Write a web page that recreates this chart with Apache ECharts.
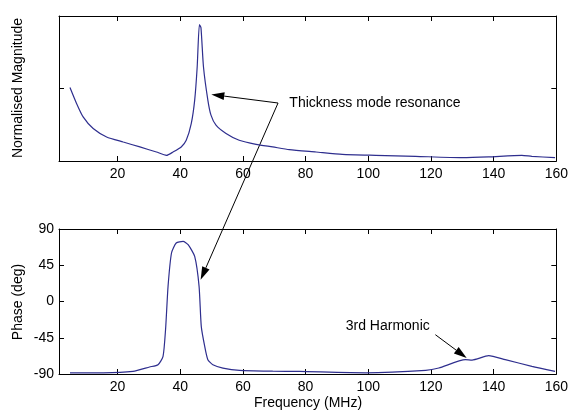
<!DOCTYPE html>
<html>
<head>
<meta charset="utf-8">
<script src="https://cdn.jsdelivr.net/npm/echarts@6/dist/echarts.min.js"></script>
<style>
html,body{margin:0;padding:0;background:#fff;}
#c{width:571px;height:412px;}
</style>
</head>
<body>
<div id="c"></div>
<script>
// ---- data ----
var magFreq = [4.8, 6.9, 9.0, 12.2, 16.5, 21.8, 27.1, 32.4, 35.6, 37.7, 40.3, 41.9, 43.5, 44.6, 45.4, 46.1, 46.6, 47.4, 48.8, 49.8, 51.4, 54.6, 58.8, 64.2, 69.5, 74.8, 83.3, 91.7, 102.3, 115.1, 129.9, 138.4, 149.0, 152.2, 159.6];
var magVal  = [0.507, 0.397, 0.304, 0.224, 0.166, 0.131, 0.097, 0.062, 0.039, 0.062, 0.097, 0.143, 0.258, 0.42, 0.65, 0.94, 0.92, 0.65, 0.42, 0.316, 0.247, 0.19, 0.143, 0.115, 0.097, 0.078, 0.062, 0.046, 0.039, 0.032, 0.023, 0.028, 0.039, 0.032, 0.023];
var phFreq = [4.8, 15.4, 24.9, 30.2, 32.9, 34.5, 35.3, 36.1, 37.2, 38.7, 40.9, 42.5, 44.6, 46.0, 46.7, 47.8, 48.8, 50.4, 53.6, 58.9, 69.5, 78.0, 99.2, 118.3, 122.5, 131.0, 133.1, 138.4, 143.7, 152.2, 159.6];
var phVal  = [-88.5, -88.5, -86.8, -81.3, -78.5, -68.2, -35, 18.8, 60.2, 72.6, 74.6, 70.5, 56, 18.8, -30.9, -55.7, -72.2, -78.5, -82.6, -85.5, -86.5, -86.8, -88.5, -85.5, -82.6, -72.2, -72.7, -67.3, -72.2, -80.5, -86.8];
var xTicks = [20, 40, 60, 80, 100, 120, 140, 160];
var magTicks = [0.5];
var phTicks = [-90, -45, 0, 45, 90];
var noteThick = 'Thickness mode resonance';
var noteThickText = [74.8, 0.40];
var noteThickStart = [71.2, 0.40];
var noteThickTipMag = [49.9, 0.459];
var noteThickTipPh = [46.5, 27];
var noteHarm = '3rd Harmonic';
var noteHarmText = [92.8, -30.9];
var noteHarmStart = [121.4, -41.2];
var noteHarmTip = [131.4, -70.1];
var xMin = 1.3, xMax = 160;

var FONT = '"Liberation Sans", Arial, sans-serif';
var LINE = '#2e2e8e';

function pairs(a, b) { return a.map(function (v, i) { return [v, b[i]]; }); }

function xAx(grid, bottom, labels) {
  return {
    type: 'value', gridIndex: grid, position: bottom ? 'bottom' : 'top',
    min: xMin, max: xMax,
    axisLine: { show: true, onZero: false, lineStyle: { color: '#000', width: 1 } },
    axisTick: { show: true, inside: true, length: 5, customValues: xTicks, lineStyle: { color: '#000' } },
    axisLabel: { show: labels, customValues: xTicks, color: '#000', fontFamily: FONT, fontSize: 14, margin: 6 },
    splitLine: { show: false }
  };
}
function yAx(grid, left, min, max, ticks, labels) {
  return {
    type: 'value', gridIndex: grid, position: left ? 'left' : 'right',
    min: min, max: max,
    axisLine: { show: true, onZero: false, lineStyle: { color: '#000', width: 1 } },
    axisTick: { show: true, inside: true, length: 5, customValues: ticks, lineStyle: { color: '#000' } },
    axisLabel: { show: labels, customValues: ticks, color: '#000', fontFamily: FONT, fontSize: 14, margin: 5 },
    splitLine: { show: false }
  };
}

var chart = echarts.init(document.getElementById('c'), null, { renderer: 'canvas' });
chart.setOption({
  animation: false,
  backgroundColor: '#fff',
  grid: [
    { left: 59, top: 16, width: 499, height: 145, show: false },
    { left: 59, top: 229, width: 499, height: 145, show: false }
  ],
  xAxis: [xAx(0, true, true), xAx(0, false, false), xAx(1, true, true), xAx(1, false, false)],
  yAxis: [yAx(0, true, 0, 1, magTicks, false), yAx(0, false, 0, 1, magTicks, false),
          yAx(1, true, -90, 90, phTicks, true), yAx(1, false, -90, 90, phTicks, false)],
  series: [
    { type: 'line', xAxisIndex: 0, yAxisIndex: 0, data: pairs(magFreq, magVal), showSymbol: false,
      smooth: 0.2,
      lineStyle: { color: LINE, width: 1.2 }, silent: true },
    { type: 'line', xAxisIndex: 2, yAxisIndex: 2, data: pairs(phFreq, phVal), showSymbol: false,
      smooth: 0.2,
      lineStyle: { color: LINE, width: 1.2 }, silent: true }
  ]
});

function px(grid, p) {
  var xi = grid === 0 ? 0 : 2, yi = grid === 0 ? 0 : 2;
  return chart.convertToPixel({ xAxisIndex: xi, yAxisIndex: yi }, p);
}
function arrow(a, b) {
  var dx = b[0] - a[0], dy = b[1] - a[1], L = Math.sqrt(dx * dx + dy * dy);
  var ux = dx / L, uy = dy / L, hl = 13, hw = 4;
  var bx = b[0] - ux * hl, by = b[1] - uy * hl;
  return [
    { type: 'line', shape: { x1: a[0], y1: a[1], x2: bx, y2: by }, style: { stroke: '#000', lineWidth: 1 }, silent: true },
    { type: 'polygon', shape: { points: [[b[0], b[1]], [bx - uy * hw, by + ux * hw], [bx + uy * hw, by - ux * hw]] },
      style: { fill: '#000' }, silent: true }
  ];
}
var g = [];
var tp = px(0, noteThickText);
g.push({ type: 'text', x: tp[0], y: tp[1], style: { text: noteThick, font: '14px ' + FONT, fill: '#000', textVerticalAlign: 'middle', textAlign: 'left' } });
var s1 = px(0, noteThickStart);
g = g.concat(arrow(s1, px(0, noteThickTipMag)));
g = g.concat(arrow(s1, px(1, noteThickTipPh)));
var hp = px(1, noteHarmText);
g.push({ type: 'text', x: hp[0], y: hp[1], style: { text: noteHarm, font: '14px ' + FONT, fill: '#000', textVerticalAlign: 'middle', textAlign: 'left' } });
g = g.concat(arrow(px(1, noteHarmStart), px(1, noteHarmTip)));
g.push({ type: 'text', x: 18, y: 88, rotation: Math.PI / 2, style: { text: 'Normalised Magnitude', font: '14px ' + FONT, fill: '#000', textAlign: 'center', textVerticalAlign: 'middle' } });
g.push({ type: 'text', x: 18, y: 302, rotation: Math.PI / 2, style: { text: 'Phase (deg)', font: '14px ' + FONT, fill: '#000', textAlign: 'center', textVerticalAlign: 'middle' } });
g.push({ type: 'text', x: 308, y: 403, style: { text: 'Frequency (MHz)', font: '14px ' + FONT, fill: '#000', textAlign: 'center', textVerticalAlign: 'middle' } });
chart.setOption({ graphic: g });
</script>
</body>
</html>
